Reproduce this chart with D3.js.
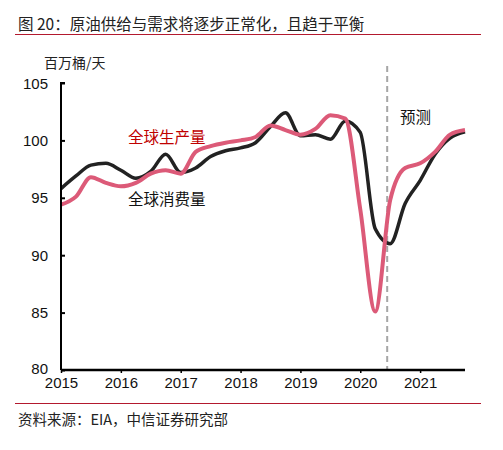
<!DOCTYPE html>
<html>
<head>
<meta charset="utf-8">
<script src="https://cdn.jsdelivr.net/npm/d3@7"></script>
<style>
  body { margin: 0; background: #fff; }
  text { font-family: "Noto Sans CJK SC", "Liberation Sans", sans-serif; }
  .num { font-family: "Liberation Sans", Arial, sans-serif; }
</style>
</head>
<body>
<div id="chart"></div>
<script>
// quarterly points, decimal years
const dates = [
  2015.00, 2015.25, 2015.50, 2015.75,
  2016.00, 2016.25, 2016.50, 2016.75,
  2017.00, 2017.25, 2017.50, 2017.75,
  2018.00, 2018.25, 2018.50, 2018.75,
  2019.00, 2019.25, 2019.50, 2019.75,
  2020.00, 2020.25, 2020.50, 2020.75,
  2021.00, 2021.25, 2021.50, 2021.75
];
// 全球消费量 (black)
const consumption = [
  95.8, 96.9, 97.85, 98.0,
  97.4, 96.7, 97.3, 98.8,
  97.2, 97.6, 98.6, 99.1,
  99.35, 99.8, 101.2, 102.4,
  100.4, 100.5, 100.1, 101.7,
  100.7, 92.3, 91.0, 94.5,
  96.5, 98.8, 100.2, 100.75
];
// 全球生产量 (pink)
const production = [
  94.4, 95.1, 96.8, 96.3,
  96.0, 96.3, 97.1, 97.4,
  97.1, 99.0, 99.5, 99.8,
  100.0, 100.3, 101.3, 100.9,
  100.5, 101.0, 102.2, 101.9,
  94.0, 85.1, 94.8, 97.6,
  98.0, 99.0, 100.5, 100.9
];
const yearTicks = [2015, 2016, 2017, 2018, 2019, 2020, 2021];
const valueTicks = [80, 85, 90, 95, 100, 105];
const forecastStart = 2020.45;

const W = 503, H = 450;
const margin = {top: 83, right: 38, bottom: 80, left: 61};

const svg = d3.select("#chart").append("svg")
  .attr("width", W).attr("height", H);

svg.append("rect").attr("width", W).attr("height", H).attr("fill", "#fff");

// header / footer
svg.append("text").attr("x", 18).attr("y", 30)
  .attr("font-size", 15.5).attr("fill", "#222")
  .text("图 20：原油供给与需求将逐步正常化，且趋于平衡");
svg.append("line").attr("x1", 15).attr("x2", 481).attr("y1", 34.5).attr("y2", 34.5)
  .attr("stroke", "#b3192e").attr("stroke-width", 1);
svg.append("line").attr("x1", 15).attr("x2", 481).attr("y1", 403.5).attr("y2", 403.5)
  .attr("stroke", "#b3192e").attr("stroke-width", 1);
svg.append("text").attr("x", 18).attr("y", 425)
  .attr("font-size", 14.5).attr("fill", "#222")
  .text("资料来源：EIA，中信证券研究部");

const x = d3.scaleLinear()
  .domain([2015, 2021.75])
  .range([margin.left, W - margin.right]);
const y = d3.scaleLinear()
  .domain([80, 105])
  .range([H - margin.bottom, margin.top]);

svg.append("text").attr("x", 44).attr("y", 68)
  .attr("font-size", 14).attr("fill", "#222")
  .text("百万桶/天");

// forecast divider
svg.append("line")
  .attr("x1", x(forecastStart)).attr("x2", x(forecastStart))
  .attr("y1", 66).attr("y2", y(80))
  .attr("stroke", "#a6a6a6").attr("stroke-width", 2)
  .attr("stroke-dasharray", "6,4");

// lines
const line = vals => d3.line()
  .x((d, i) => x(dates[i]))
  .y(d => y(d))
  .curve(d3.curveMonotoneX)(vals);

svg.append("path").attr("d", line(consumption))
  .attr("fill", "none").attr("stroke", "#222").attr("stroke-width", 3.5)
  .attr("stroke-linejoin", "round");
svg.append("path").attr("d", line(production))
  .attr("fill", "none").attr("stroke", "#dc5a78").attr("stroke-width", 4)
  .attr("stroke-linejoin", "round");

// axes
const yAxis = svg.append("g")
  .attr("transform", `translate(${margin.left},0)`)
  .call(d3.axisRight(y).tickValues(valueTicks).tickSize(4).tickFormat(""));
yAxis.select(".domain").attr("stroke-width", 2).attr("d", `M4,${y(105)}H0V${y(80)}`);
yAxis.selectAll(".tick line").attr("stroke-width", 2);

valueTicks.forEach(v => {
  svg.append("text").attr("class", "num")
    .attr("x", 48).attr("y", y(v) + (v === 80 ? 4 : 5.5))
    .attr("text-anchor", "end").attr("font-size", 15).attr("fill", "#111")
    .text(v);
});

const xAxis = svg.append("g")
  .attr("transform", `translate(0,${y(80)})`)
  .call(d3.axisBottom(x).tickValues(yearTicks).tickSize(3).tickFormat(d3.format("d")));
xAxis.select(".domain").attr("stroke-width", 2.5).attr("d", `M${x(2015)},0H${x(2021.75)}`);
xAxis.selectAll(".tick line").attr("stroke-width", 1.5);
xAxis.selectAll(".tick text").attr("class", "num")
  .attr("font-size", 15).attr("fill", "#111").attr("dy", 0).attr("y", 17.5);

// series labels
svg.append("text").attr("x", 128).attr("y", 143)
  .attr("font-size", 15.5).attr("fill", "#c00000").text("全球生产量");
svg.append("text").attr("x", 128).attr("y", 205)
  .attr("font-size", 15.5).attr("fill", "#111").text("全球消费量");
svg.append("text").attr("x", 400).attr("y", 123)
  .attr("font-size", 15.5).attr("fill", "#111").text("预测");
</script>
</body>
</html>
